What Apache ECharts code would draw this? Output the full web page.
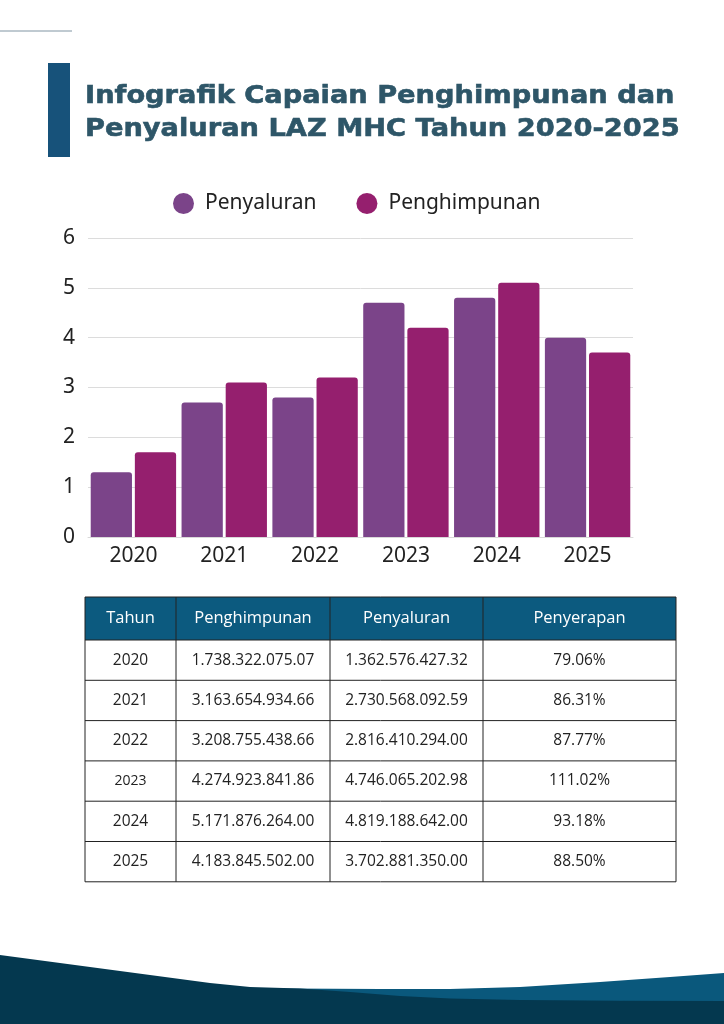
<!DOCTYPE html>
<html>
<head>
<meta charset="utf-8">
<script src="https://cdn.jsdelivr.net/npm/echarts@6/dist/echarts.min.js"></script>
<style>
html,body{margin:0;padding:0;background:#fff;}
#main{width:724px;height:1024px;}
</style>
</head>
<body>
<div id="main"></div>
<script>
// ---- Data ----
const years = ['2020', '2021', '2022', '2023', '2024', '2025'];
const penyaluranChart = [1.3, 2.7, 2.8, 4.7, 4.8, 4.0];
const penghimpunanChart = [1.7, 3.1, 3.2, 4.2, 5.1, 3.7];
const yTicks = [0, 1, 2, 3, 4, 5, 6];

const tableHeader = ['Tahun', 'Penghimpunan', 'Penyaluran', 'Penyerapan'];
const tablePenghimpunan = ['1.738.322.075.07', '3.163.654.934.66', '3.208.755.438.66', '4.274.923.841.86', '5.171.876.264.00', '4.183.845.502.00'];
const tablePenyaluran = ['1.362.576.427.32', '2.730.568.092.59', '2.816.410.294.00', '4.746.065.202.98', '4.819.188.642.00', '3.702.881.350.00'];
const tablePenyerapan = ['79.06%', '86.31%', '87.77%', '111.02%', '93.18%', '88.50%'];

const titleLines = ['Infografik Capaian Penghimpunan dan', 'Penyaluran LAZ MHC Tahun 2020-2025'];

// ---- Layout / styles ----
const COL_PURPLE = '#7b4489';
const COL_MAGENTA = '#951f6e';
const colX = [85, 176, 330, 483, 676];
const headTop = 597, headH = 43, rowH = 40.3;

const graphics = [];
// thin top-left line
graphics.push({type: 'line', shape: {x1: 0, y1: 31, x2: 72, y2: 31}, style: {stroke: '#8095a3', lineWidth: 1}});
// title accent bar
graphics.push({type: 'rect', shape: {x: 48, y: 63, width: 22, height: 94}, style: {fill: '#17527a'}});
titleLines.forEach((t, i) => {
  graphics.push({type: 'text', x: 85, y: 96 + i * 33, scaleX: 1.09, originX: 0, originY: 0,
    style: {text: t, fill: '#2e5668', stroke: '#2e5668', lineWidth: 0.6, font: 'bold 25px "DejaVu Sans"', verticalAlign: 'middle'}});
});

// table
const tableRows = years.map((y, i) => [y, tablePenghimpunan[i], tablePenyaluran[i], tablePenyerapan[i]]);
const tableBottom = headTop + headH + rowH * tableRows.length;
graphics.push({type: 'rect', shape: {x: colX[0], y: headTop, width: colX[4] - colX[0], height: headH}, style: {fill: '#0c5a7f'}});
tableHeader.forEach((h, c) => {
  graphics.push({type: 'text', x: (colX[c] + colX[c + 1]) / 2, y: headTop + headH / 2,
    style: {text: h, fill: '#ffffff', font: '16.5px "Open Sans"', align: 'center', verticalAlign: 'middle'}});
});
tableRows.forEach((row, r) => {
  const cy = headTop + headH + rowH * r + rowH / 2;
  row.forEach((v, c) => {
    const small = (c === 0 && v === '2023');
    graphics.push({type: 'text', x: (colX[c] + colX[c + 1]) / 2, y: cy,
      style: {text: v, fill: '#222222', font: (small ? '14px' : '15.5px') + ' "Open Sans"', align: 'center', verticalAlign: 'middle'}});
  });
});
// grid lines of table
for (let r = 0; r <= tableRows.length; r++) {
  const y = headTop + headH + rowH * r;
  graphics.push({type: 'line', shape: {x1: colX[0], y1: y, x2: colX[4], y2: y}, style: {stroke: '#222', lineWidth: 1}});
}
graphics.push({type: 'line', shape: {x1: colX[0], y1: headTop, x2: colX[4], y2: headTop}, style: {stroke: '#222', lineWidth: 1}});
colX.forEach(x => {
  graphics.push({type: 'line', shape: {x1: x, y1: headTop, x2: x, y2: tableBottom}, style: {stroke: '#222', lineWidth: 1}});
});

// bottom wave
graphics.push({type: 'polygon', shape: {points: [[285, 988.5], [380, 989], [450, 989], [520, 987], [600, 982], [670, 977], [724, 973], [724, 1024], [285, 1024]]}, style: {fill: '#0a587c'}});
graphics.push({type: 'polygon', shape: {points: [[0, 955], [75, 965], [150, 975], [210, 983], [250, 987], [300, 988.5], [350, 992], [400, 996], [450, 998.5], [520, 1000], [620, 1000.7], [724, 1001], [724, 1024], [0, 1024]]}, style: {fill: '#04384f'}});

const option = {
  backgroundColor: '#ffffff',
  animation: false,
  legend: {
    top: 188,
    left: 168,
    icon: 'circle',
    itemWidth: 21,
    itemHeight: 21,
    itemGap: 40,
    textStyle: {fontFamily: 'Noto Sans', fontSize: 21, color: '#222', padding: [0, 0, 0, 6]},
    data: ['Penyaluran', 'Penghimpunan']
  },
  grid: {left: 88, right: 91, top: 238, bottom: 487, containLabel: false, outerBoundsMode: 'none'},
  xAxis: {
    type: 'category',
    data: years,
    axisTick: {show: false},
    axisLine: {lineStyle: {color: '#d9d9d9'}},
    axisLabel: {fontFamily: 'Noto Sans', fontSize: 21, color: '#222', margin: 9}
  },
  yAxis: {
    type: 'value',
    min: yTicks[0],
    max: yTicks[yTicks.length - 1],
    interval: 1,
    axisLine: {show: false},
    axisTick: {show: false},
    splitLine: {lineStyle: {color: '#dcdcdc'}},
    axisLabel: {fontFamily: 'Noto Sans', fontSize: 21, color: '#222', margin: 13}
  },
  series: [
    {name: 'Penyaluran', type: 'bar', data: penyaluranChart, itemStyle: {color: COL_PURPLE, borderRadius: [3, 3, 0, 0]}, barGap: '7%', barCategoryGap: '6%'},
    {name: 'Penghimpunan', type: 'bar', data: penghimpunanChart, itemStyle: {color: COL_MAGENTA, borderRadius: [3, 3, 0, 0]}, barGap: '7%', barCategoryGap: '6%'}
  ],
  graphic: {elements: graphics}
};

const chart = echarts.init(document.getElementById('main'), null, {renderer: 'canvas'});
chart.setOption(option);
</script>
</body>
</html>
